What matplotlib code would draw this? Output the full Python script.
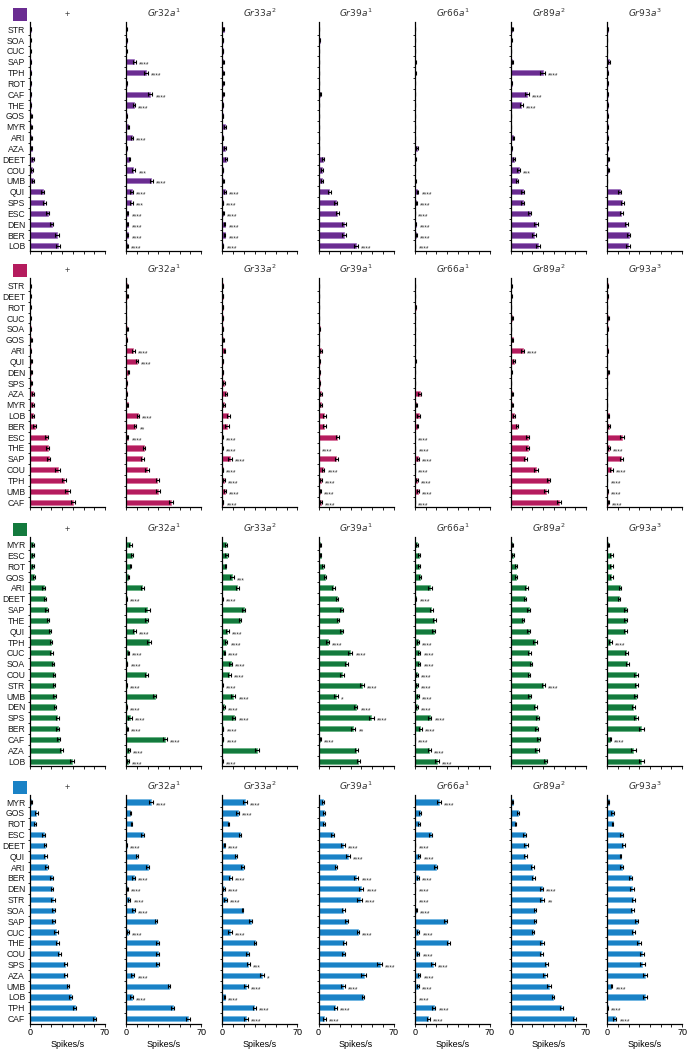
import matplotlib
matplotlib.use("Agg")
import matplotlib.pyplot as plt
from matplotlib.patches import Rectangle

plt.rcParams["font.family"]=["Liberation Sans","DejaVu Sans"]

GENOTYPES=["+",r"$\it{Gr32a}^{1}$",r"$\it{Gr33a}^{2}$",r"$\it{Gr39a}^{1}$",
           r"$\it{Gr66a}^{1}$",r"$\it{Gr89a}^{2}$",r"$\it{Gr93a}^{3}$"]

# ---- block 1 (purple)
p_odors=["STR","SOA","CUC","SAP","TPH","ROT","CAF","THE","GOS","MYR","ARI",
         "AZA","DEET","COU","UMB","QUI","SPS","ESC","DEN","BER","LOB"]
p_wt=[0.5,0.3,0.3,0.5,0.5,0.5,0.8,0.8,1.0,1.0,1.0,1.5,2.5,2.0,2.5,11.8,13.3,16.4,20.4,25.0,26.3]
p_32a=[0.2,0.3,0.2,7.4,18.3,0.3,22.6,7.4,0.5,2.0,5.3,0.3,3.0,6.8,23.5,5.0,4.6,1.5,1.5,1.5,1.0]
p_33a=[1.3,0.3,0.3,1.0,1.0,1.0,1.0,0.5,0.5,2.5,0.3,2.5,3.0,0.3,1.0,2.5,0.3,1.0,2.0,2.0,0.5]
p_39a=[0.3,1.0,0.3,0.5,0.5,0.3,1.5,0.3,0.3,0.3,0.3,0.3,4.3,3.5,3.0,10.0,16.0,17.6,23.8,23.8,34.7]
p_66a=[0.3,0.0,0.0,0.5,0.5,0.0,0.0,0.3,0.3,0.3,0.0,2.0,0.5,0.0,0.5,2.5,1.5,0.0,1.0,1.5,0.3]
p_89a=[1.0,0.3,0.0,1.0,29.4,0.5,14.9,9.6,0.0,0.0,2.0,0.5,2.5,7.0,5.9,10.8,10.8,17.3,23.0,21.7,25.0]
p_93a=[0.5,0.0,0.0,2.0,0.3,0.3,0.3,0.3,0.3,0.3,0.3,0.3,1.0,1.0,0.0,11.8,14.0,13.3,18.0,20.0,19.5]
p_wt_e=[0.3,0.2,0.2,0.3,0.3,0.3,0.4,0.4,0.4,0.4,0.5,0.6,0.8,0.7,0.9,1.2,1.6,1.6,1.5,1.8,2.0]
p_32a_e=[0.2,0.2,0.2,1.3,1.6,0.2,1.8,1.0,0.3,0.6,1.0,0.2,0.8,1.8,1.5,1.2,1.3,0.5,0.6,0.6,0.4]
p_33a_e=[0.5,0.2,0.2,0.4,0.4,0.4,0.4,0.3,0.3,0.8,0.2,0.8,1.0,0.2,0.4,0.8,0.2,0.4,0.7,0.8,0.3]
p_39a_e=[0.2,0.4,0.2,0.3,0.3,0.2,0.5,0.2,0.2,0.2,0.2,0.2,1.0,0.8,0.8,1.2,1.6,1.8,2.0,2.2,2.0]
p_66a_e=[0.2,0.1,0.1,0.3,0.3,0.1,0.1,0.2,0.2,0.2,0.1,0.6,0.3,0.1,0.3,0.8,0.5,0.1,0.4,0.5,0.2]
p_89a_e=[0.4,0.2,0.1,0.4,2.0,0.3,1.8,1.2,0.1,0.1,0.6,0.3,0.8,1.2,1.0,1.3,1.4,1.8,1.8,1.8,1.6]
p_93a_e=[0.3,0.1,0.1,0.8,0.2,0.2,0.2,0.2,0.2,0.2,0.2,0.2,0.4,0.4,0.1,1.5,1.5,1.6,1.5,1.4,1.5]
p_sig=[{},
       {"SAP":"****","TPH":"****","CAF":"****","THE":"****","ARI":"****","COU":"***","UMB":"****",
        "QUI":"****","SPS":"***","ESC":"****","DEN":"****","BER":"****","LOB":"****"},
       {"QUI":"****","SPS":"****","ESC":"****","DEN":"****","BER":"****","LOB":"****"},
       {"LOB":"****"},
       {"QUI":"****","SPS":"****","ESC":"****","DEN":"****","BER":"****","LOB":"****"},
       {"TPH":"****","CAF":"****","THE":"****","COU":"***"},
       {}]

# ---- block 2 (magenta)
m_odors=["STR","DEET","ROT","CUC","SOA","GOS","ARI","QUI","DEN","SPS","AZA",
         "MYR","LOB","BER","ESC","THE","SAP","COU","TPH","UMB","CAF"]
m_wt=[0.3,0.3,0.3,0.3,0.5,1.0,0.5,1.0,1.0,1.2,2.5,2.5,3.0,4.5,15.5,16.4,17.3,25.7,31.9,35.0,40.2]
m_32a=[1.0,1.0,0.0,0.0,1.0,0.3,6.8,9.9,2.0,0.3,0.3,1.5,11.0,8.4,1.5,16.7,15.2,19.2,29.0,29.7,42.0]
m_33a=[0.5,0.3,0.3,0.3,0.3,0.8,2.0,0.3,0.3,1.5,3.7,1.5,5.5,4.3,0.0,0.0,6.8,0.3,1.5,2.5,0.5]
m_39a=[0.3,0.5,0.3,0.3,1.0,0.3,2.0,1.0,1.0,1.0,2.0,2.0,5.3,5.3,17.6,0.0,16.7,4.3,2.0,1.5,2.5]
m_66a=[0.0,0.3,1.0,0.3,0.0,0.0,0.0,0.5,0.0,0.0,4.5,1.5,3.5,2.5,0.0,0.3,3.0,0.0,2.0,3.0,0.0]
m_89a=[0.3,0.3,0.0,1.0,0.0,1.5,10.8,3.0,0.3,0.0,1.0,1.0,2.5,5.5,15.5,15.5,13.3,23.2,35.0,32.8,44.9]
m_93a=[0.3,0.3,0.0,1.0,0.3,0.0,0.3,0.0,1.0,0.0,0.0,0.0,1.5,2.0,13.9,2.0,13.3,4.0,0.0,0.3,1.0]
m_wt_e=[0.2,0.2,0.2,0.2,0.3,0.4,0.3,0.4,0.4,0.5,0.8,0.8,0.9,1.3,1.6,1.6,1.8,2.0,1.8,2.0,2.0]
m_32a_e=[0.4,0.4,0.1,0.1,0.4,0.2,1.0,1.0,0.6,0.2,0.2,0.5,1.0,1.2,0.5,1.2,1.6,1.8,1.6,2.0,1.6]
m_33a_e=[0.3,0.2,0.2,0.2,0.2,0.4,0.8,0.2,0.2,0.6,1.0,0.6,1.2,1.6,0.1,0.1,1.8,0.2,0.6,0.8,0.3]
m_39a_e=[0.2,0.3,0.2,0.2,0.4,0.2,0.8,0.4,0.4,0.4,0.8,0.8,1.2,1.2,1.4,0.1,1.5,1.2,0.8,0.6,0.8]
m_66a_e=[0.1,0.2,0.4,0.2,0.1,0.1,0.1,0.3,0.1,0.1,1.2,0.6,1.0,0.8,0.1,0.2,1.0,0.1,0.8,1.0,0.1]
m_89a_e=[0.2,0.2,0.1,0.4,0.1,0.6,1.2,0.8,0.2,0.1,0.4,0.4,0.8,1.2,1.6,1.5,1.6,2.0,1.6,1.8,2.0]
m_93a_e=[0.2,0.2,0.1,0.4,0.2,0.1,0.2,0.1,0.4,0.1,0.1,0.1,0.6,0.8,1.6,0.8,1.8,1.6,0.1,0.2,0.5]
m_sig=[{},
       {"ARI":"****","QUI":"****","LOB":"****","BER":"**","ESC":"****"},
       {"ESC":"****","THE":"****","SAP":"****","COU":"****","TPH":"****","UMB":"****","CAF":"****"},
       {"THE":"****","COU":"****","TPH":"****","UMB":"****","CAF":"****"},
       {"ESC":"****","THE":"****","SAP":"****","COU":"****","TPH":"****","UMB":"****","CAF":"****"},
       {"ARI":"****"},
       {"THE":"****","COU":"****","TPH":"****","UMB":"****","CAF":"****"}]

# ---- block 3 (green)
g_odors=["MYR","ESC","ROT","GOS","ARI","DEET","SAP","THE","QUI","TPH","CUC",
         "SOA","COU","STR","UMB","DEN","SPS","BER","CAF","AZA","LOB"]
g_wt=[2.5,3.0,3.0,3.5,12.7,13.9,15.5,16.4,18.6,19.5,19.8,21.7,22.3,22.6,22.9,23.2,25.4,26.0,26.6,29.1,39.3]
g_32a=[4.0,5.0,4.0,2.0,15.2,0.3,19.8,19.2,7.7,21.4,2.0,0.8,18.6,0.3,26.6,0.3,3.7,1.0,36.2,2.5,2.0]
g_33a=[3.0,4.0,3.0,8.7,13.9,0.0,20.1,16.4,4.6,3.7,2.0,7.7,6.2,0.0,10.2,1.5,10.8,0.5,0.5,32.5,0.0]
g_39a=[1.5,2.0,4.0,6.2,13.9,17.0,21.4,18.3,21.7,8.4,29.4,26.0,21.7,40.2,16.1,34.7,49.2,32.5,1.5,35.3,37.2]
g_66a=[2.0,4.0,4.0,4.5,14.2,1.0,15.5,18.3,17.6,3.0,4.0,4.0,2.0,2.0,3.0,2.0,13.9,5.3,0.0,13.6,20.7]
g_89a=[1.0,2.0,5.0,5.0,14.2,12.7,16.4,10.8,16.4,22.0,17.0,18.6,16.4,30.0,17.3,22.6,25.0,24.1,25.7,24.1,32.5]
g_93a=[1.0,4.0,4.0,4.0,11.8,11.1,17.3,17.3,17.0,3.0,18.0,18.9,26.6,27.2,26.6,24.1,27.2,31.9,3.0,24.5,31.9]
g_wt_e=[0.8,0.8,0.9,0.9,1.2,0.8,1.4,1.0,0.9,1.2,1.4,1.0,1.1,1.1,1.1,1.0,1.3,1.4,1.6,1.3,1.8]
g_32a_e=[1.0,0.9,0.8,0.6,1.4,0.2,2.0,1.3,1.5,1.6,0.6,0.3,1.4,0.2,1.4,0.2,1.6,0.4,2.0,0.8,0.8]
g_33a_e=[1.0,1.2,0.8,1.8,1.6,0.1,1.4,1.2,1.2,1.0,0.6,1.3,1.4,0.1,1.8,0.6,1.4,0.3,0.3,1.8,0.1]
g_39a_e=[0.6,0.6,0.8,1.0,1.2,1.2,1.4,1.2,1.4,1.4,2.0,1.2,1.8,1.8,1.8,1.6,2.2,1.8,0.6,1.6,1.6]
g_66a_e=[0.6,1.0,0.9,1.0,1.6,0.4,1.6,1.4,1.6,1.0,1.2,1.2,0.8,0.8,0.8,0.8,1.6,1.4,0.1,1.6,1.6]
g_89a_e=[0.4,0.8,1.0,1.0,1.2,1.0,1.4,1.0,1.2,1.8,1.4,1.2,1.0,1.5,1.2,1.2,1.4,1.4,1.6,1.6,1.4]
g_93a_e=[0.4,1.0,1.2,1.2,0.8,1.0,1.6,1.6,1.5,1.2,1.5,1.6,2.0,1.6,1.4,1.4,2.0,2.0,0.6,2.0,2.0]
g_sig=[{},
       {"DEET":"****","QUI":"****","CUC":"****","SOA":"****","STR":"****","DEN":"****","SPS":"****",
        "BER":"****","CAF":"****","AZA":"****","LOB":"****"},
       {"GOS":"***","DEET":"****","QUI":"****","TPH":"****","CUC":"****","SOA":"****","COU":"****",
        "STR":"****","UMB":"****","DEN":"****","SPS":"****","BER":"****","CAF":"****","LOB":"****"},
       {"TPH":"****","CUC":"****","STR":"****","UMB":"*","DEN":"****","SPS":"****","BER":"**","CAF":"****"},
       {"DEET":"****","TPH":"****","CUC":"****","SOA":"****","COU":"****","STR":"****","UMB":"****",
        "DEN":"****","SPS":"****","BER":"****","CAF":"****","AZA":"****","LOB":"****"},
       {"STR":"****"},
       {"TPH":"****","CAF":"****"}]

# ---- block 4 (blue)
b_odors=["MYR","GOS","ROT","ESC","DEET","QUI","ARI","BER","DEN","STR","SOA",
         "SAP","CUC","THE","COU","SPS","AZA","UMB","LOB","TPH","CAF"]
b_wt=[1.0,6.0,5.0,12.8,14.0,14.4,15.6,20.3,20.6,21.3,22.2,22.2,24.4,25.3,27.5,32.8,33.1,35.3,37.8,41.6,60.3]
b_32a=[23.0,4.0,5.0,15.3,0.5,10.0,20.0,6.9,1.0,3.0,7.0,27.8,2.0,29.4,29.4,29.4,6.0,40.3,5.0,43.4,57.5]
b_33a=[21.0,14.1,5.6,16.6,2.0,12.5,18.8,7.2,1.5,3.0,18.8,26.6,6.9,30.4,23.5,24.1,36.7,21.9,2.0,29.8,21.9]
b_39a=[4.0,5.0,5.0,13.2,22.6,27.3,16.3,35.1,39.8,38.2,23.2,26.3,36.7,24.1,23.5,57.0,42.0,22.6,41.4,15.7,5.3]
b_66a=[22.6,5.0,4.0,14.7,0.3,4.0,19.4,3.0,0.3,0.3,1.5,28.8,3.0,31.3,3.0,16.9,4.0,3.0,0.3,17.8,12.5]
b_89a=[1.5,6.6,4.0,12.9,14.1,13.5,19.7,20.7,28.5,29.2,22.3,22.3,20.4,29.2,28.2,32.9,31.7,35.4,39.5,47.0,58.9]
b_93a=[1.5,5.0,5.0,13.5,15.0,12.5,13.5,21.9,22.9,24.5,23.5,27.6,24.5,29.8,32.3,32.9,35.4,4.0,35.4,0.3,7.0]
b_wt_e=[0.4,1.2,0.9,1.2,1.2,1.1,1.2,1.2,1.0,1.6,1.5,1.5,2.0,1.5,1.4,1.5,1.4,1.2,1.6,1.4,1.4]
b_32a_e=[1.6,0.8,0.8,1.4,0.3,0.8,1.4,1.2,0.4,1.0,1.2,1.0,0.8,1.6,1.6,1.2,1.6,1.0,1.2,1.4,1.8]
b_33a_e=[1.8,1.4,0.8,1.2,0.6,0.8,1.2,1.4,0.5,1.2,0.8,1.4,1.6,1.2,1.6,1.6,2.0,1.8,0.6,1.4,1.8]
b_39a_e=[0.8,1.0,0.8,1.4,1.8,2.0,1.2,2.0,2.0,2.0,1.0,1.2,1.2,1.4,1.2,2.2,2.0,1.8,1.2,1.6,1.4]
b_66a_e=[1.6,1.0,0.8,1.2,0.2,1.2,1.4,0.8,0.2,0.2,0.6,1.2,1.2,1.4,1.2,1.6,1.2,1.0,0.2,1.4,1.4]
b_89a_e=[0.5,1.2,0.6,1.4,1.6,1.4,1.4,1.4,1.4,1.8,1.2,1.2,1.0,2.0,1.6,1.4,1.6,1.8,1.0,1.4,1.4]
b_93a_e=[0.6,1.2,0.8,1.4,1.4,0.8,1.4,1.4,2.0,1.6,1.4,1.6,1.0,2.2,2.0,2.4,2.2,0.8,2.2,0.3,1.6]
b_sig=[{},
       {"MYR":"****","DEET":"****","BER":"****","DEN":"****","STR":"****","SOA":"****","CUC":"****",
        "AZA":"****","LOB":"****"},
       {"MYR":"****","GOS":"****","DEET":"****","BER":"****","DEN":"****","STR":"****","CUC":"****",
        "SPS":"***","AZA":"*","UMB":"****","LOB":"****","TPH":"****","CAF":"****"},
       {"DEET":"****","QUI":"****","BER":"****","DEN":"****","STR":"****","CUC":"****","SPS":"****",
        "UMB":"****","TPH":"****","CAF":"****"},
       {"MYR":"****","DEET":"****","QUI":"****","BER":"****","DEN":"****","STR":"****","SOA":"****",
        "CUC":"****","COU":"****","SPS":"****","AZA":"****","UMB":"****","LOB":"****","TPH":"****","CAF":"****"},
       {"DEN":"****","STR":"**"},
       {"UMB":"****","TPH":"****","CAF":"****"}]

# block table: odors, bar colour, edge colour, top px, values, errors, stars
BLOCKS=[
    (p_odors,"#6A2C91","#9C6FBD",21.7,[p_wt,p_32a,p_33a,p_39a,p_66a,p_89a,p_93a],
     [p_wt_e,p_32a_e,p_33a_e,p_39a_e,p_66a_e,p_89a_e,p_93a_e],p_sig),
    (m_odors,"#B51C5E","#D9709A",278.0,[m_wt,m_32a,m_33a,m_39a,m_66a,m_89a,m_93a],
     [m_wt_e,m_32a_e,m_33a_e,m_39a_e,m_66a_e,m_89a_e,m_93a_e],m_sig),
    (g_odors,"#137A3D","#5FB07C",537.0,[g_wt,g_32a,g_33a,g_39a,g_66a,g_89a,g_93a],
     [g_wt_e,g_32a_e,g_33a_e,g_39a_e,g_66a_e,g_89a_e,g_93a_e],g_sig),
    (b_odors,"#1A82C6","#6DB5E3",794.5,[b_wt,b_32a,b_33a,b_39a,b_66a,b_89a,b_93a],
     [b_wt_e,b_32a_e,b_33a_e,b_39a_e,b_66a_e,b_89a_e,b_93a_e],b_sig),
]

W,H=695,1050
fig=plt.figure(figsize=(W/100,H/100),dpi=100)
axW,axH=75,229

for bi,(odors,clr,edge,top,vals,errs,sigs) in enumerate(BLOCKS):
    # colour key square
    fig.add_artist(Rectangle((12.5/W,1-(top-1)/H),14.5/W,13/H,facecolor=clr,
                             edgecolor="none",transform=fig.transFigure))
    y=list(range(len(odors)))
    for ci in range(7):
        left=30+ci*96.2
        ax=fig.add_axes([left/W,1-(top+axH)/H,axW/W,axH/H])
        ax.barh(y,vals[ci],height=0.48,color=clr,edgecolor=edge,linewidth=0.5,zorder=2)
        ax.errorbar(vals[ci],y,xerr=errs[ci],fmt="none",ecolor="black",
                    elinewidth=0.8,capsize=1.2,capthick=0.8,zorder=3)
        for i,od in enumerate(odors):
            s=sigs[ci].get(od,"")
            if s:
                ax.text(vals[ci][i]+errs[ci][i]+3.0,i+0.32,s,fontsize=5,
                        ha="left",va="center",color="#333333")
        ax.set_xlim(0,70)
        ax.set_ylim(20.45,-0.7)
        for sp in ["top","right"]:
            ax.spines[sp].set_visible(False)
        ax.spines["left"].set_linewidth(0.9)
        ax.spines["bottom"].set_linewidth(0.9)
        ax.set_xticks(range(0,71,10))
        ax.tick_params(axis="x",length=2,width=0.6,pad=1.5,labelsize=6.5)
        if bi==3:
            ax.set_xticklabels(["0","","","","","","","70"])
            ax.set_xlabel("Spikes/s",fontsize=6.5,labelpad=2)
        else:
            ax.set_xticklabels([])
        ax.set_yticks(y)
        ax.set_yticks([v+0.5 for v in y[:-1]],minor=True)
        ax.tick_params(axis="y",which="major",length=0,pad=3.5,labelsize=6.2)
        ax.tick_params(axis="y",which="minor",length=1.8,width=0.6)
        if ci==0:
            ax.set_yticklabels(odors,color="#1a1a1a")
        else:
            ax.set_yticklabels([])
        ax.set_title(GENOTYPES[ci],fontsize=6.5,pad=3.5,color="#333333")

fig.savefig("out.png",dpi=100)
